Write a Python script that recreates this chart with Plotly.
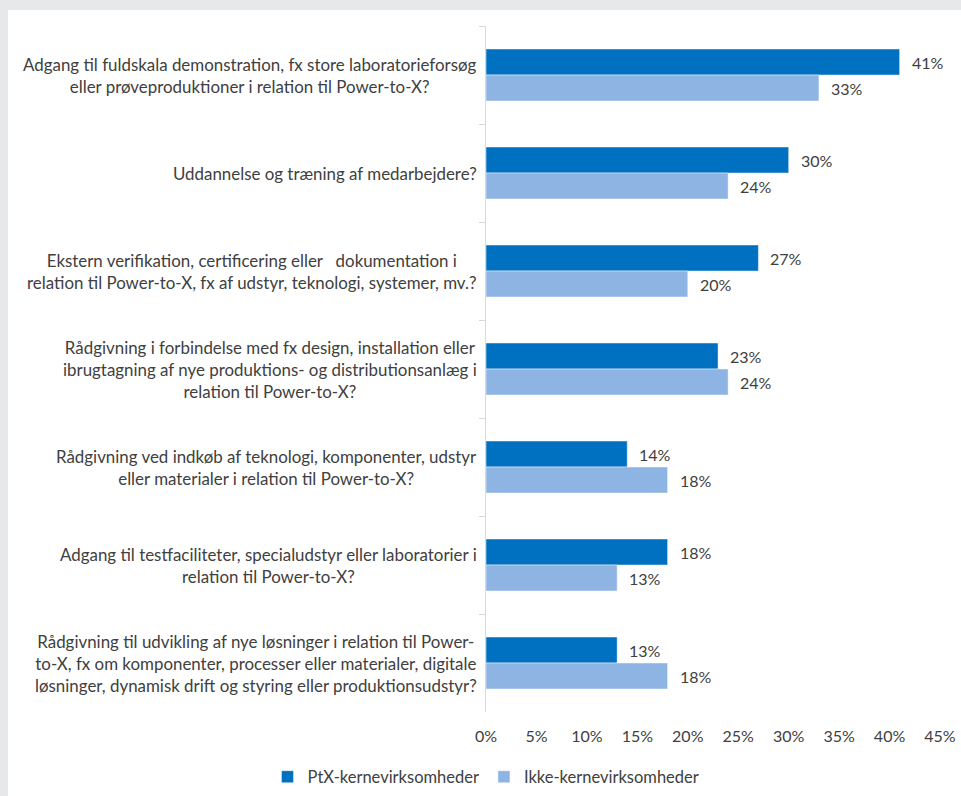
import plotly.graph_objects as go

categories = [
    "Adgang til fuldskala demonstration, fx store laboratorieforsøg<br>eller prøveproduktioner i relation til Power-to-X?",
    "Uddannelse og træning af medarbejdere?",
    "Ekstern verifikation, certificering eller   dokumentation i<br>relation til Power-to-X, fx af udstyr, teknologi, systemer, mv.?",
    "Rådgivning i forbindelse med fx design, installation eller<br>ibrugtagning af nye produktions- og distributionsanlæg i<br>relation til Power-to-X?",
    "Rådgivning ved indkøb af teknologi, komponenter, udstyr<br>eller materialer i relation til Power-to-X?",
    "Adgang til testfaciliteter, specialudstyr eller laboratorier i<br>relation til Power-to-X?",
    "Rådgivning til udvikling af nye løsninger i relation til Power-<br>to-X, fx om komponenter, processer eller materialer, digitale<br>løsninger, dynamisk drift og styring eller produktionsudstyr?",
]
cat_ids = [f"c{i}" for i in range(len(categories))]

series_names = ["PtX-kernevirksomheder", "Ikke-kernevirksomheder"]
ptx_values = [41, 30, 27, 23, 14, 18, 13]
ikke_values = [33, 24, 20, 24, 18, 13, 18]
series_colors = ["#0070C0", "#8EB4E3"]

x_ticks = list(range(0, 50, 5))

FONT = "Lato"
TXT = "#404040"

fig = go.Figure()
for name, vals, col in zip(series_names, [ptx_values, ikke_values], series_colors):
    fig.add_trace(go.Bar(
        name=name, y=cat_ids, x=vals, orientation="h",
        marker=dict(color=col, line=dict(color="rgba(255,255,255,0.45)", width=1)),
    ))

annotations = []
# category labels
for cid, lab in zip(cat_ids, categories):
    annotations.append(dict(
        x=0, xref="paper", y=cid, yref="y", text=lab, showarrow=False,
        xanchor="right", yanchor="middle", align="center", xshift=-7,
        font=dict(family=FONT, size=16.9, color=TXT),
    ))
# data labels
for vals, ys in [(ptx_values, -13), (ikke_values, 13)]:
    for cid, v in zip(cat_ids, vals):
        annotations.append(dict(
            x=v, xref="x", y=cid, yref="y", text=f"{v}%", showarrow=False,
            xanchor="left", yanchor="middle", xshift=10, yshift=-ys,
            font=dict(family=FONT, size=16, color=TXT),
        ))

L, R, T, B = 486, 21, 26, 84
W, H = 961, 796
pw, ph = W - L - R, H - T - B

def px_x(p):
    return (p - L) / pw

def px_y(p):
    return (H - B - p) / ph

grey = "#E7E8EA"
shapes = [
    dict(type="rect", xref="paper", yref="paper", x0=px_x(0), x1=px_x(W + 5),
         y0=px_y(10), y1=px_y(-5), fillcolor=grey, line=dict(width=0), layer="below"),
    dict(type="rect", xref="paper", yref="paper", x0=px_x(-5), x1=px_x(8),
         y0=px_y(H + 5), y1=px_y(-5), fillcolor=grey, line=dict(width=0), layer="below"),
]

fig.update_layout(
    width=W, height=H, autosize=False,
    margin=dict(l=L, r=R, t=T, b=B, pad=0, autoexpand=False),
    paper_bgcolor="white", plot_bgcolor="white",
    barmode="group", bargap=0.47, bargroupgap=0,
    font=dict(family=FONT, size=16, color=TXT),
    showlegend=True,
    legend=dict(orientation="h", xref="container", yref="container",
                x=486 / W, xanchor="center", y=1 - 777 / H, yanchor="middle",
                font=dict(family=FONT, size=16.5, color=TXT), itemwidth=30,
                traceorder="normal"),
    annotations=annotations,
    shapes=shapes,
)
fig.update_xaxes(range=[0, 45], tickvals=x_ticks, ticktext=[f"{t}%" for t in x_ticks],
                 showgrid=False, zeroline=False, showline=False, ticks="", automargin=False,
                 ticklabelstandoff=13, tickfont=dict(family=FONT, size=16, color=TXT))
fig.update_yaxes(autorange="reversed", showticklabels=False, showgrid=False, automargin=False,
                 showline=True, linecolor="#D9D9D9", linewidth=1,
                 ticks="outside", tickson="boundaries", ticklen=6, tickcolor="#D9D9D9")

fig.write_html("out.html")
